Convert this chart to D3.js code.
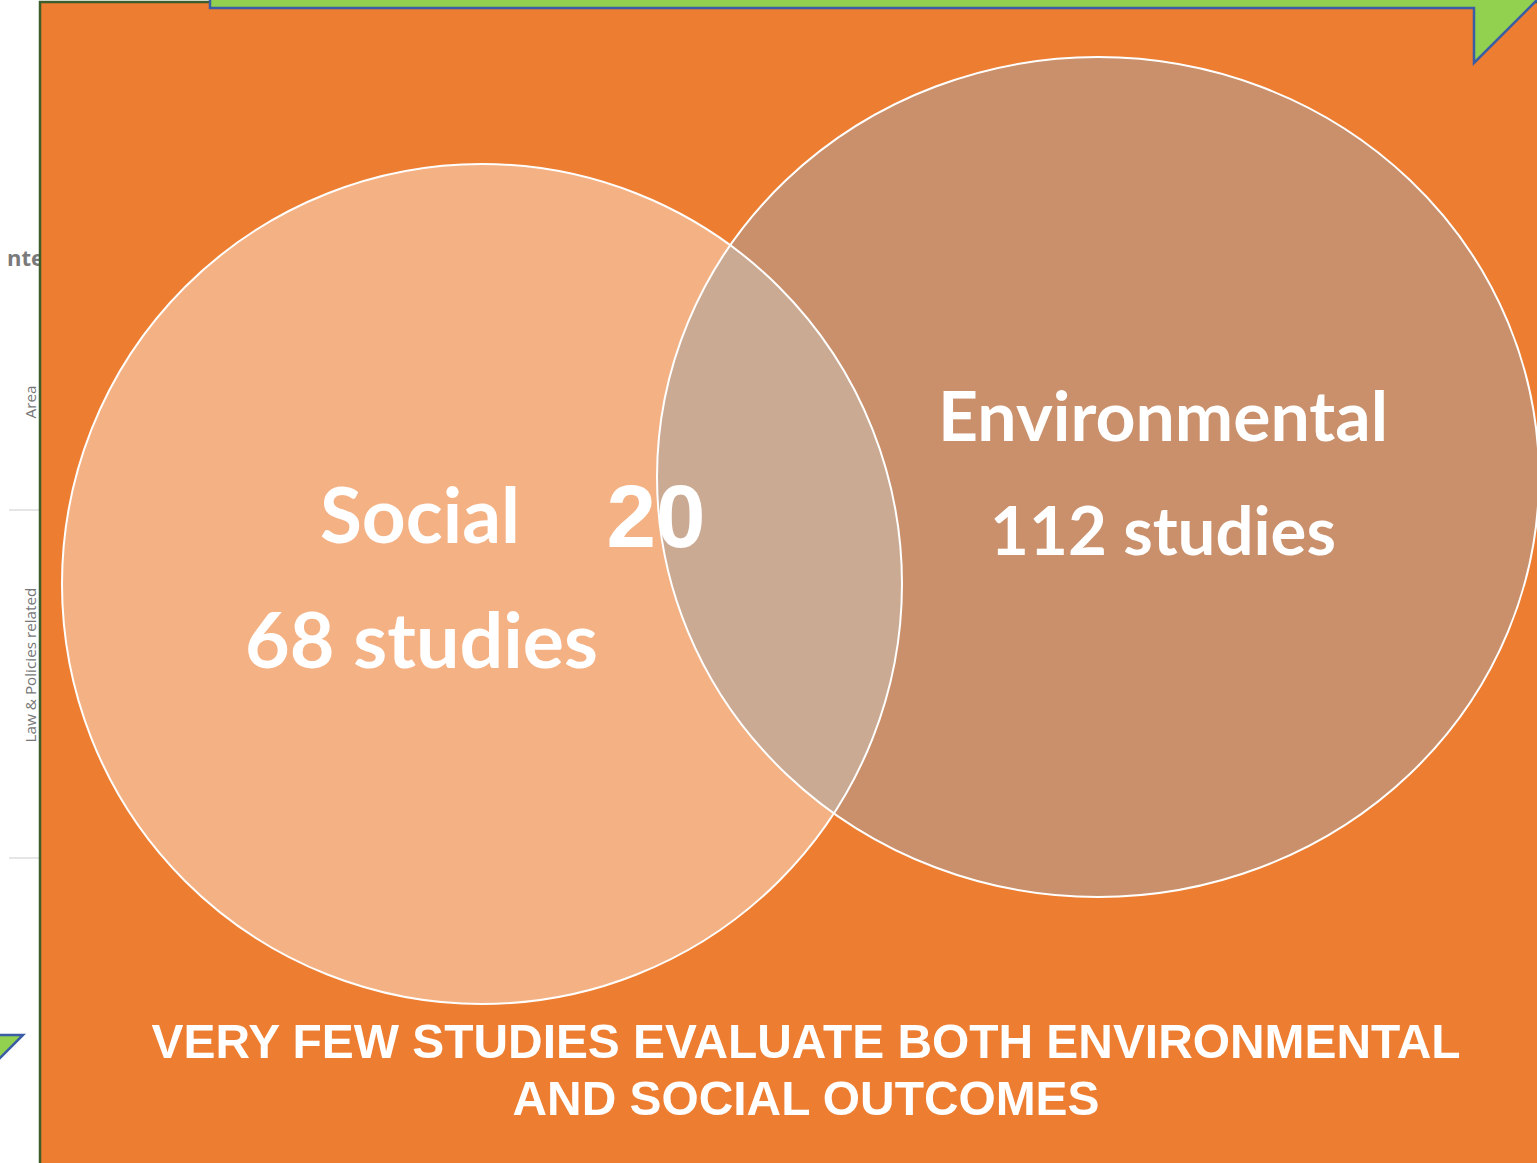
<!DOCTYPE html>
<html>
<head>
<meta charset="utf-8">
<script src="https://cdn.jsdelivr.net/npm/d3@7"></script>
<style>
  html, body { margin: 0; padding: 0; background: #ffffff; }
  svg { display: block; }
</style>
</head>
<body>
<svg id="chart" width="1537" height="1163"></svg>
<script>
// ---------- data ----------
const sets = ["Social", "Environmental"];
const studyCounts = [68, 112];
const overlapCount = 20;
const conclusionLines = ["VERY FEW STUDIES EVALUATE BOTH ENVIRONMENTAL", "AND SOCIAL OUTCOMES"];
const sideLabels = ["Area", "Law & Policies related"];

// ---------- layout ----------
const W = 1537, H = 1163;
const svg = d3.select("#chart");
const colors = {
  orange: "#ED7D31",
  border: "#3b5e2b",
  social: "#F4B184",
  env: "#C9906B",
  overlap: "#CBAA94",
  green: "#92D050",
  blue: "#3A5DA5"
};
const shapes = [
  { name: sets[0], count: studyCounts[0], cx: 482, cy: 584, rx: 420, ry: 420, fill: colors.social },
  { name: sets[1], count: studyCounts[1], cx: 1098, cy: 477, rx: 441, ry: 420, fill: colors.env }
];

function fitText(sel, targetW) {
  const node = sel.node();
  const fs = parseFloat(sel.attr("font-size"));
  const w = node.getComputedTextLength();
  sel.attr("font-size", fs * targetW / w);
  return sel;
}

// left residual strip (background slide content)
const strip = svg.append("g");
strip.append("text").attr("x", 7).attr("y", 266)
  .attr("font-family", "Open Sans, sans-serif").attr("font-weight", 700)
  .attr("font-size", 22).attr("fill", "#7a7a7a").text("nte");
[510, 858].forEach(y => strip.append("line")
  .attr("x1", 9).attr("x2", 40).attr("y1", y).attr("y2", y)
  .attr("stroke", "#dcdcdc").attr("stroke-width", 1.5));
const sideY = [402, 665], sideW = [33, 155];
sideLabels.forEach((t, i) => {
  const s = strip.append("text")
    .attr("transform", `translate(36,${sideY[i]}) rotate(-90)`)
    .attr("text-anchor", "middle")
    .attr("font-family", "Open Sans, sans-serif")
    .attr("font-size", 13).attr("fill", "#777777").text(t);
  fitText(s, sideW[i]);
});

// orange panel
svg.append("rect").attr("x", 40).attr("y", 2).attr("width", W + 20).attr("height", H + 20)
  .attr("fill", colors.orange).attr("stroke", colors.border).attr("stroke-width", 2.5);

// circles
const defs = svg.append("defs");
defs.append("clipPath").attr("id", "clipSocial")
  .append("ellipse").attr("cx", shapes[0].cx).attr("cy", shapes[0].cy)
  .attr("rx", shapes[0].rx).attr("ry", shapes[0].ry);

const g = svg.append("g");
g.selectAll("ellipse.fill").data(shapes).join("ellipse")
  .attr("class", "fill")
  .attr("cx", d => d.cx).attr("cy", d => d.cy)
  .attr("rx", d => d.rx).attr("ry", d => d.ry)
  .attr("fill", d => d.fill);
g.append("ellipse")
  .attr("clip-path", "url(#clipSocial)")
  .attr("cx", shapes[1].cx).attr("cy", shapes[1].cy)
  .attr("rx", shapes[1].rx).attr("ry", shapes[1].ry)
  .attr("fill", colors.overlap);
g.selectAll("ellipse.outline").data(shapes).join("ellipse")
  .attr("class", "outline")
  .attr("cx", d => d.cx).attr("cy", d => d.cy)
  .attr("rx", d => d.rx).attr("ry", d => d.ry)
  .attr("fill", "none").attr("stroke", "#ffffff").attr("stroke-width", 2);

const labelFont = "Lato, Open Sans, sans-serif";
const labels = [
  { text: shapes[0].name, x: 420, y: 543, w: 200 },
  { text: `${shapes[0].count} studies`, x: 421.5, y: 668, w: 353 },
  { text: shapes[1].name, x: 1163, y: 441, w: 450 },
  { text: `${shapes[1].count} studies`, x: 1163, y: 555, w: 346 }
];
labels.forEach(l => {
  const t = svg.append("text").attr("x", l.x).attr("y", l.y)
    .attr("text-anchor", "middle").attr("font-family", labelFont)
    .attr("font-weight", 700).attr("font-size", 60).attr("fill", "#ffffff")
    .text(l.text);
  fitText(t, l.w);
});

const ov = svg.append("text").attr("x", 656).attr("y", 547)
  .attr("text-anchor", "middle").attr("font-family", "Liberation Sans, Arial, sans-serif")
  .attr("font-weight", 700).attr("font-size", 90).attr("fill", "#ffffff")
  .text(String(overlapCount));
fitText(ov, 99);

// conclusion
const concY = [1058, 1115], concW = [1309, 587];
conclusionLines.forEach((t, i) => svg.append("text")
  .attr("x", 806).attr("y", concY[i]).attr("text-anchor", "middle")
  .attr("font-family", "Liberation Sans, Arial, sans-serif")
  .attr("font-weight", 700).attr("font-size", 49).attr("fill", "#ffffff")
  .attr("textLength", concW[i]).attr("lengthAdjust", "spacingAndGlyphs")
  .text(t));

// green banner top with callout triangle
svg.append("path")
  .attr("d", "M210,-10 L210,8 L1474,8 L1474,63 L1542,-5 L1542,-10 Z")
  .attr("fill", colors.green).attr("stroke", colors.blue).attr("stroke-width", 2.5)
  .attr("stroke-linejoin", "miter");

// green triangle bottom-left
svg.append("path")
  .attr("d", "M-5,1035 L23,1035 L-5,1063 Z")
  .attr("fill", colors.green).attr("stroke", colors.blue).attr("stroke-width", 2.5);
</script>
</body>
</html>
